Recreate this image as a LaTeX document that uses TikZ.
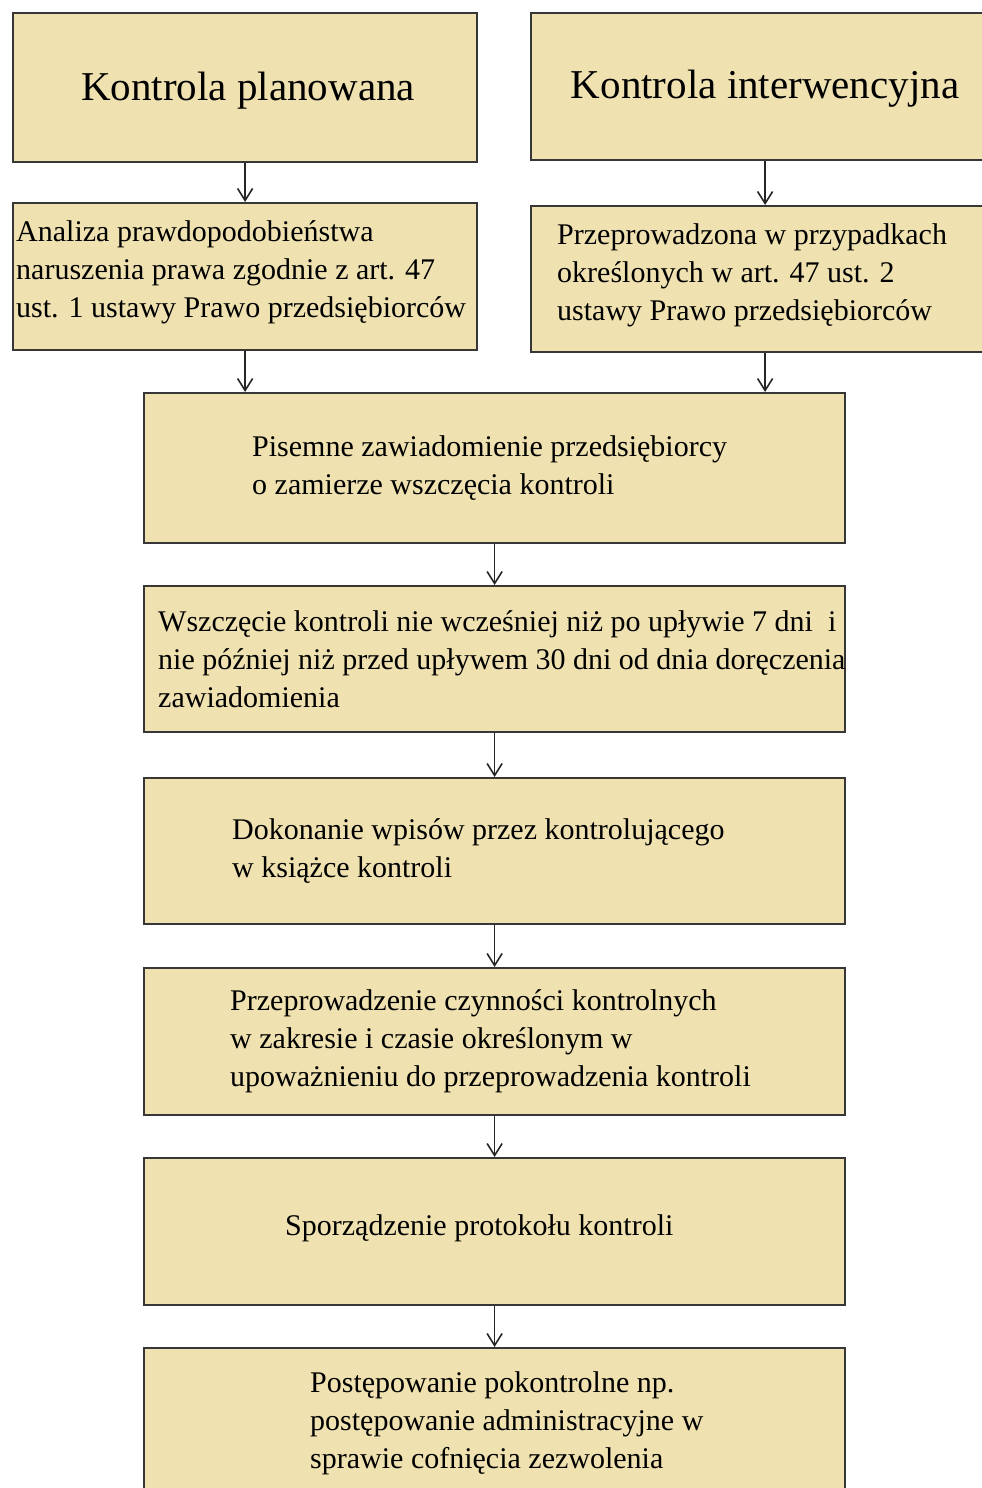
\documentclass[tikz,border=0pt]{standalone}
\usepackage{fontspec}
\setmainfont{Liberation Serif}
\usetikzlibrary{arrows.meta,calc}
\definecolor{boxfill}{RGB}{239,226,176}
\definecolor{boxline}{RGB}{55,55,55}
\begin{document}
\begin{tikzpicture}[x=1pt,y=-1pt,
 box/.style={draw=boxline,line width=2.2pt,fill=boxfill,inner sep=0pt,anchor=north west},
 body/.style={anchor=west,align=left,inner sep=0pt,font=\fontsize{30}{38}\selectfont},
 title/.style={inner sep=0pt,font=\fontsize{41}{48}\selectfont},
 arr/.style={-{Straight Barb[length=12pt,width=15pt,line width=1.6pt]},line width=1.6pt,draw=black!85}]
\useasboundingbox (0,0) rectangle (982,1488);
\clip (0,0) rectangle (982,1488);
\node[box,minimum width=464pt,minimum height=149pt] (b1) at (12,12) {};
\node[title] (t1) at ([xshift=3pt,yshift=-3pt]b1.center) {Kontrola planowana};
\node[box,minimum width=468pt,minimum height=147pt] (b2) at (530,12) {};
\node[title] (t2) at ([yshift=-2pt]b2.center) {Kontrola interwencyjna};
\node[box,minimum width=464pt,minimum height=147pt] (b3) at (12,202) {};
\node[body] (t3) at ([xshift=4pt,yshift=4pt]b3.west) {Analiza prawdopodobieństwa\\naruszenia prawa zgodnie z art. 47\\ust. 1 ustawy Prawo przedsiębiorców};
\node[box,minimum width=468pt,minimum height=146pt] (b4) at (530,205) {};
\node[body] (t4) at ([xshift=27pt,yshift=4pt]b4.west) {Przeprowadzona w przypadkach\\określonych w art. 47 ust. 2\\ustawy Prawo przedsiębiorców};
\node[box,minimum width=701pt,minimum height=150pt] (b5) at (143,392) {};
\node[body] (t5) at ([xshift=109pt]b5.west) {Pisemne zawiadomienie przedsiębiorcy\\o zamierze wszczęcia kontroli};
\node[box,minimum width=701pt,minimum height=146pt] (b6) at (143,585) {};
\node[body] (t6) at ([xshift=15pt]b6.west) {Wszczęcie kontroli nie wcześniej niż po upływie 7 dni\ \ i\\nie później niż przed upływem 30 dni od dnia doręczenia\\zawiadomienia};
\node[box,minimum width=701pt,minimum height=146pt] (b7) at (143,777) {};
\node[body] (t7) at ([xshift=89pt]b7.west) {Dokonanie wpisów przez kontrolującego\\w książce kontroli};
\node[box,minimum width=701pt,minimum height=147pt] (b8) at (143,967) {};
\node[body] (t8) at ([xshift=87pt]b8.west) {Przeprowadzenie czynności kontrolnych\\w zakresie i czasie określonym w\\upoważnieniu do przeprowadzenia kontroli};
\node[box,minimum width=701pt,minimum height=147pt] (b9) at (143,1157) {};
\node[body] (t9) at ([xshift=142pt,yshift=3pt]b9.west) {Sporządzenie protokołu kontroli};
\node[box,minimum width=701pt,minimum height=150pt] (b10) at (143,1347) {};
\node[body] (t10) at ([xshift=167pt]b10.west) {Postępowanie pokontrolne np.\\postępowanie administracyjne w\\sprawie cofnięcia zezwolenia};
\draw[arr] (b1.south) -- (b3.north);
\draw[arr] (b2.south) -- (b4.north);
\draw[arr] (b3.south) -- (b3.south |- b5.north);
\draw[arr] (b4.south) -- (b4.south |- b5.north);
\draw[arr] (b5.south) -- (b6.north);
\draw[arr] (b6.south) -- (b7.north);
\draw[arr] (b7.south) -- (b8.north);
\draw[arr] (b8.south) -- (b9.north);
\draw[arr] (b9.south) -- (b10.north);
\end{tikzpicture}
\end{document}
